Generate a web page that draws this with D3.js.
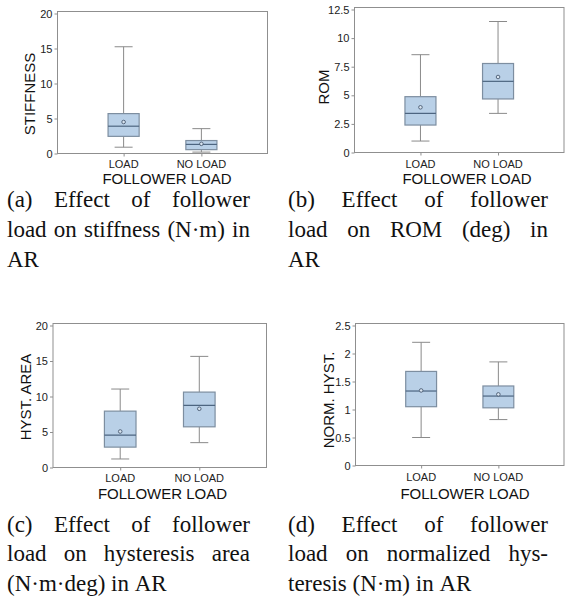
<!DOCTYPE html>
<html>
<head>
<meta charset="utf-8">
<script src="https://cdn.jsdelivr.net/npm/d3@7"></script>
<style>
  html, body { margin: 0; padding: 0; background: #fff; }
  svg { display: block; }
</style>
</head>
<body>
<svg id="fig" width="577" height="604"></svg>
<script>
// Groups on the x axis
const groups = ["LOAD", "NO LOAD"];

// Box statistics per group: [lower whisker, Q1, median, Q3, upper whisker, mean]
const stiffnessStats = [[0.9, 2.45, 3.9, 5.7, 15.25, 4.5], [0.2, 0.55, 1.3, 1.85, 3.55, 1.38]];
const romStats       = [[1.0, 2.4, 3.42, 4.88, 8.55, 3.95], [3.42, 4.68, 6.22, 7.78, 11.45, 6.6]];
const hystAreaStats  = [[1.2, 2.87, 4.56, 7.94, 11.05, 5.07], [3.5, 5.73, 8.75, 10.62, 15.65, 8.27]];
const normHystStats  = [[0.5, 1.05, 1.33, 1.68, 2.2, 1.34], [0.82, 1.03, 1.24, 1.42, 1.85, 1.27]];

// Y tick values per panel
const stiffnessTicks = [0, 5, 10, 15, 20];
const romTicks       = [0, 2.5, 5, 7.5, 10, 12.5];
const hystAreaTicks  = [0, 5, 10, 15, 20];
const normHystTicks  = [0, 0.5, 1, 1.5, 2, 2.5];

// Axis titles
const yTitles = ["STIFFNESS", "ROM", "HYST. AREA", "NORM. HYST."];
const xTitle = "FOLLOWER LOAD";

// Sub-figure captions (one array of lines per panel; last line is not justified)
const captions = [
  ["(a) Effect of follower", "load on stiffness (N\u00b7m) in", "AR"],
  ["(b) Effect of follower", "load on ROM (deg) in", "AR"],
  ["(c) Effect of follower", "load on hysteresis area", "(N\u00b7m\u00b7deg) in AR"],
  ["(d) Effect of follower", "load on normalized hys-", "teresis (N\u00b7m) in AR"]
];

const svg = d3.select("#fig");
const sans = "Liberation Sans";
const serif = "Liberation Serif";

const panels = [
  { stats: stiffnessStats, ticks: stiffnessTicks, max: 20,   left: 57.5,  right: 267.5, y0: 153.5, yMax: 13.5,
    yTitle: [29, 94], catY: 168, xTitleAt: [167, 184] },
  { stats: romStats,       ticks: romTicks,       max: 12.5, left: 354.5, right: 564,   y0: 152.5, yMax: 9.5,
    yTitle: [323, 87], catY: 167.5, xTitleAt: [467, 184] },
  { stats: hystAreaStats,  ticks: hystAreaTicks,  max: 20,   left: 53,    right: 266.5, y0: 467.5, yMax: 325.5,
    yTitle: [25, 397], catY: 482, xTitleAt: [162.5, 498.5] },
  { stats: normHystStats,  ticks: normHystTicks,  max: 2.5,  left: 355.5, right: 564,   y0: 465.5, yMax: 325.5,
    yTitle: [328, 400], catY: 481, xTitleAt: [465, 498.5] }
];

const frameColor = "#8f8f8f";
const whiskerColor = "#8a8a8a";
const boxFill = "#b9d0e7";
const boxStroke = "#7d8ea0";
const medianColor = "#4d6580";

panels.forEach((p, i) => {
  const g = svg.append("g");
  const y = d3.scaleLinear().domain([0, p.max]).range([p.y0, p.yMax]);
  const x = d3.scalePoint().domain(groups).range([p.left, p.right]).padding(0.85);
  const top = p.yMax - 2;

  // plot frame
  g.append("rect")
    .attr("x", p.left).attr("y", top)
    .attr("width", p.right - p.left).attr("height", p.y0 - top)
    .attr("fill", "none").attr("stroke", frameColor).attr("stroke-width", 1);

  // y axis
  const yAxis = d3.axisLeft(y).tickValues(p.ticks).tickSize(3).tickPadding(2)
    .tickFormat(d => String(d));
  const ya = g.append("g").attr("transform", `translate(${p.left},0)`).call(yAxis);
  ya.select(".domain").remove();
  ya.selectAll(".tick line").attr("stroke", frameColor);
  ya.selectAll(".tick text").attr("fill", "#222").attr("font-family", sans).attr("font-size", 11);

  // x axis
  const xAxis = d3.axisBottom(x).tickSize(3).tickPadding(4);
  const xa = g.append("g").attr("transform", `translate(0,${p.y0})`).call(xAxis);
  xa.select(".domain").remove();
  xa.selectAll(".tick line").attr("stroke", frameColor);
  xa.selectAll(".tick text").remove();
  groups.forEach(c => {
    g.append("text").attr("x", x(c)).attr("y", p.catY)
      .attr("text-anchor", "middle").attr("fill", "#222")
      .attr("font-family", sans).attr("font-size", 11).text(c);
  });

  // axis titles
  g.append("text")
    .attr("transform", `translate(${p.yTitle[0]},${p.yTitle[1]}) rotate(-90)`)
    .attr("text-anchor", "middle").attr("dominant-baseline", "central")
    .attr("fill", "#111").attr("font-family", sans).attr("font-size", 15)
    .text(yTitles[i]);
  g.append("text").attr("x", p.xTitleAt[0]).attr("y", p.xTitleAt[1])
    .attr("text-anchor", "middle").attr("fill", "#111")
    .attr("font-family", sans).attr("font-size", 15).text(xTitle);

  // box plots
  const boxW = (p.right - p.left) * 0.148;
  const capW = 18;
  groups.forEach((c, k) => {
    const [lo, q1, med, q3, hi, mean] = p.stats[k];
    const cx = x(c);
    const b = g.append("g");
    b.append("line").attr("x1", cx).attr("x2", cx).attr("y1", y(hi)).attr("y2", y(q3))
      .attr("stroke", whiskerColor);
    b.append("line").attr("x1", cx).attr("x2", cx).attr("y1", y(q1)).attr("y2", y(lo))
      .attr("stroke", whiskerColor);
    [hi, lo].forEach(v => {
      b.append("line").attr("x1", cx - capW / 2).attr("x2", cx + capW / 2)
        .attr("y1", y(v)).attr("y2", y(v)).attr("stroke", whiskerColor);
    });
    b.append("rect").attr("x", cx - boxW / 2).attr("y", y(q3))
      .attr("width", boxW).attr("height", y(q1) - y(q3))
      .attr("fill", boxFill).attr("stroke", boxStroke).attr("stroke-width", 1.2);
    b.append("line").attr("x1", cx - boxW / 2).attr("x2", cx + boxW / 2)
      .attr("y1", y(med)).attr("y2", y(med)).attr("stroke", medianColor).attr("stroke-width", 1.2);
    b.append("circle").attr("cx", cx).attr("cy", y(mean)).attr("r", 1.8)
      .attr("fill", "#d8e4f0").attr("stroke", "#4a5a70").attr("stroke-width", 0.9);
  });
});

// Captions: serif, justified lines except the last one
const capCols = [[7, 250], [288, 548]];
const capRows = [[207, 237, 267], [532, 561, 591]];
captions.forEach((lines, i) => {
  const [x0, x1] = capCols[i % 2];
  const rows = capRows[Math.floor(i / 2)];
  lines.forEach((line, li) => {
    const words = line.split(" ");
    const texts = words.map(w => svg.append("text").attr("y", rows[li])
      .attr("fill", "#111").attr("font-family", serif).attr("font-size", 23).text(w));
    const widths = texts.map(t => t.node().getComputedTextLength());
    const total = d3.sum(widths);
    const last = li === lines.length - 1;
    const gap = (last || words.length < 2) ? 5.75 : (x1 - x0 - total) / (words.length - 1);
    let cx = x0;
    texts.forEach((t, k) => { t.attr("x", cx); cx += widths[k] + gap; });
  });
});
</script>
</body>
</html>
